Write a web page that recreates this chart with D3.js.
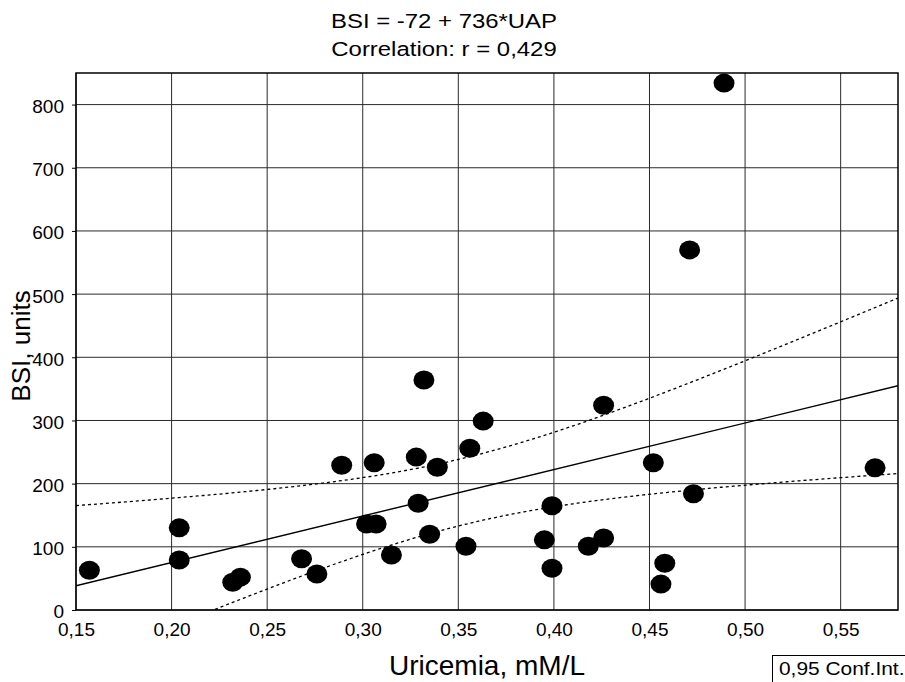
<!DOCTYPE html>
<html>
<head>
<meta charset="utf-8">
<script src="https://cdn.jsdelivr.net/npm/d3@7"></script>
<style>
  html, body { margin: 0; padding: 0; background: #fff; }
  svg { display: block; font-family: "Liberation Sans", Arial, sans-serif; }
</style>
</head>
<body>
<svg id="chart" width="905" height="682"></svg>
<script>
// ---- Data ----
const uricemia = [0.157, 0.204, 0.204, 0.232, 0.236, 0.268, 0.276, 0.289, 0.306, 0.302,
                  0.307, 0.315, 0.328, 0.329, 0.332, 0.335, 0.339, 0.354, 0.356, 0.363,
                  0.395, 0.399, 0.399, 0.418, 0.426, 0.426, 0.452, 0.458, 0.456, 0.471,
                  0.473, 0.489, 0.568];
const bsi = [63, 130, 79, 44, 52, 81, 57, 229, 233, 136,
             136, 87, 242, 169, 364, 120, 226, 101, 256, 299,
             111, 165, 66, 101, 324, 114, 233, 74, 41, 570,
             184, 834, 225];
const xTicks = [0.15, 0.20, 0.25, 0.30, 0.35, 0.40, 0.45, 0.50, 0.55];
const yTicks = [0, 100, 200, 300, 400, 500, 600, 700, 800];
const titleLines = ["BSI = -72 + 736*UAP", "Correlation: r = 0,429"];
const intercept = -72, slope = 736;
const tCrit = 2.04;           // t(0.975, df = n-2)
const xLabel = "Uricemia, mM/L";
const yLabel = "BSI, units";
const legendLabel = "0,95 Conf.Int.";

// ---- Layout ----
const svg = d3.select("#chart");
const L = 76, R = 898, T = 73, B = 610;
const x = d3.scaleLinear().domain([0.15, 0.58]).range([L, R]);
const y = d3.scaleLinear().domain([0, 850]).range([B, T]);
const fmtX = d => d3.format(".2f")(d).replace(".", ",");

svg.append("defs").append("clipPath").attr("id", "clip")
  .append("rect").attr("x", L).attr("y", T).attr("width", R - L).attr("height", B - T);

// grid
const grid = svg.append("g").attr("stroke", "#2a2a2a").attr("stroke-width", 1);
grid.selectAll("line.v").data(xTicks).join("line").attr("class", "v")
  .attr("x1", d => x(d)).attr("x2", d => x(d)).attr("y1", T).attr("y2", B);
grid.selectAll("line.h").data(yTicks).join("line").attr("class", "h")
  .attr("y1", d => y(d)).attr("y2", d => y(d)).attr("x1", L).attr("x2", R);

// axes
const xAxis = svg.append("g").attr("transform", `translate(0,${B})`)
  .call(d3.axisBottom(x).tickValues(xTicks).tickFormat(fmtX).tickSize(0).tickPadding(13));
const yAxis = svg.append("g").attr("transform", `translate(${L},0)`)
  .call(d3.axisLeft(y).tickValues(yTicks).tickFormat(d3.format("d")).tickSize(4).tickPadding(8));
[xAxis, yAxis].forEach(a => {
  a.select(".domain").remove();
  a.selectAll("text").attr("font-size", 19).attr("fill", "#000")
    .attr("font-family", "'Liberation Sans', Arial, sans-serif");
  a.selectAll("line").attr("stroke", "#000");
});
yAxis.selectAll("text").attr("dy", "0.42em");

// regression and confidence band
const n = uricemia.length;
const xMean = d3.mean(uricemia);
const sxx = d3.sum(uricemia, v => (v - xMean) ** 2);
const sse = d3.sum(uricemia, (v, i) => (bsi[i] - (intercept + slope * v)) ** 2);
const s = Math.sqrt(sse / (n - 2));
const fit = v => intercept + slope * v;
const hw = v => tCrit * s * Math.sqrt(1 / n + (v - xMean) ** 2 / sxx);
const xs = d3.range(0, 201).map(i => x.domain()[0] + (x.domain()[1] - x.domain()[0]) * i / 200);

const plot = svg.append("g").attr("clip-path", "url(#clip)");
const line = d3.line().x(d => x(d[0])).y(d => y(d[1]));
plot.append("path").datum(x.domain().map(v => [v, fit(v)]))
  .attr("d", line).attr("fill", "none").attr("stroke", "#000").attr("stroke-width", 1.4);
[1, -1].forEach(sign => {
  plot.append("path").datum(xs.map(v => [v, fit(v) + sign * hw(v)]))
    .attr("d", line).attr("fill", "none").attr("stroke", "#000")
    .attr("stroke-width", 1.3).attr("stroke-dasharray", "3,3");
});

// frame
svg.append("rect").attr("x", L).attr("y", T).attr("width", R - L).attr("height", B - T)
  .attr("fill", "none").attr("stroke", "#000").attr("stroke-width", 1.5);

// points
svg.append("g").selectAll("ellipse").data(uricemia).join("ellipse")
  .attr("cx", d => x(d)).attr("cy", (d, i) => y(bsi[i]))
  .attr("rx", 10.5).attr("ry", 9.5).attr("fill", "#000");

// title
svg.append("g").selectAll("text").data(titleLines).join("text")
  .attr("transform", (d, i) => `translate(444,${28 + i * 28}) scale(1.14,1)`)
  .attr("text-anchor", "middle").attr("font-size", 21).attr("fill", "#000")
  .text(d => d);

// axis labels
svg.append("text").attr("x", 487).attr("y", 675).attr("text-anchor", "middle")
  .attr("font-size", 28).attr("fill", "#000").text(xLabel);
svg.append("text").attr("transform", "translate(30,346) rotate(-90)")
  .attr("text-anchor", "middle").attr("font-size", 26).attr("fill", "#000").text(yLabel);

// legend
svg.append("rect").attr("x", 772.5).attr("y", 655.5).attr("width", 140).attr("height", 40)
  .attr("fill", "#fff").attr("stroke", "#000").attr("stroke-width", 1);
svg.append("text").attr("transform", "translate(779,675) scale(1.1,1)")
  .attr("font-size", 19).attr("fill", "#000").text(legendLabel);
</script>
</body>
</html>
